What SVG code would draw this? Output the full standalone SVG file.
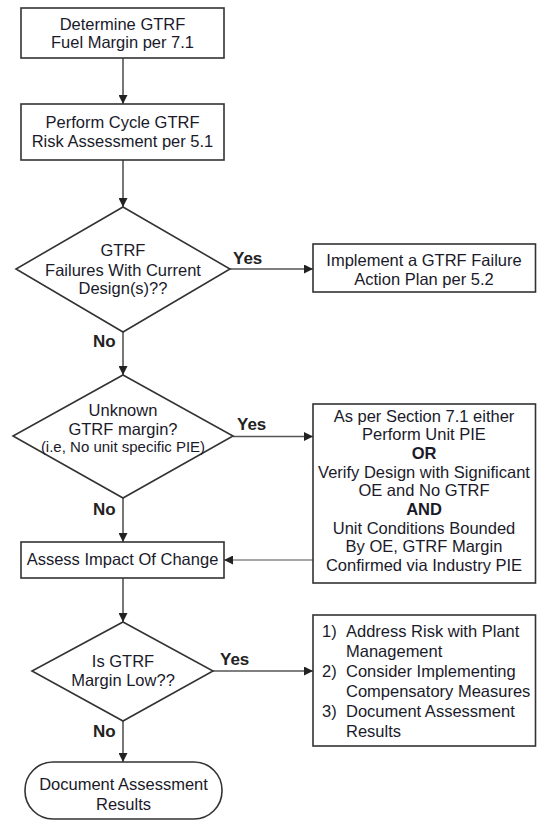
<svg xmlns="http://www.w3.org/2000/svg" width="537" height="821" viewBox="0 0 537 821">
<style>
.box{fill:#fff;stroke:#333;stroke-width:1.6}
.t{font-family:"Liberation Sans",Arial,sans-serif;font-size:16.5px;fill:#1a1a2a;text-anchor:middle}
.ts{font-size:15px}
.b{font-weight:bold}
.lbl{font-family:"Liberation Sans",Arial,sans-serif;font-size:17px;font-weight:bold;fill:#222}
.tl{text-anchor:start}
.c{fill:none;stroke:#555;stroke-width:1.6}
.cg{stroke:#888}
</style>
<defs>
<marker id="ah" viewBox="0 0 10 10" refX="10" refY="5" markerWidth="9" markerHeight="9" markerUnits="userSpaceOnUse" orient="auto">
<path d="M0,0 L10,5 L0,10 z" fill="#222"/>
</marker>
</defs>
<g id="connectors">
<line class="c" x1="123" y1="58" x2="123" y2="104" marker-end="url(#ah)"/>
<line class="c" x1="123" y1="160" x2="123" y2="207" marker-end="url(#ah)"/>
<line class="c" x1="230" y1="269" x2="313" y2="269" marker-end="url(#ah)"/>
<line class="c" x1="123" y1="332" x2="123" y2="375" marker-end="url(#ah)"/>
<line class="c" x1="233" y1="436.5" x2="313" y2="436.5" marker-end="url(#ah)"/>
<line class="c" x1="123" y1="498" x2="123" y2="542" marker-end="url(#ah)"/>
<line class="c cg" x1="313" y1="560" x2="224" y2="560" marker-end="url(#ah)"/>
<line class="c" x1="123" y1="578" x2="123" y2="622" marker-end="url(#ah)"/>
<line class="c" x1="213" y1="671" x2="313" y2="671" marker-end="url(#ah)"/>
<line class="c" x1="123" y1="721" x2="123" y2="762" marker-end="url(#ah)"/>
<text class="lbl" x="233" y="264">Yes</text>
<text class="lbl" x="93" y="347">No</text>
<text class="lbl" x="237" y="430">Yes</text>
<text class="lbl" x="93" y="515">No</text>
<text class="lbl" x="220" y="665">Yes</text>
<text class="lbl" x="93" y="737">No</text>
</g>
<g id="n1">
<rect class="box" x="21" y="8" width="203" height="50"/>
<text class="t" x="122.5" y="30">Determine GTRF</text>
<text class="t" x="122.5" y="48">Fuel Margin per 7.1</text>
</g>
<g id="n2">
<rect class="box" x="21" y="104" width="203" height="56"/>
<text class="t" x="122.5" y="128">Perform Cycle GTRF</text>
<text class="t" x="122.5" y="147">Risk Assessment per 5.1</text>
</g>
<g id="d1">
<polygon class="box" points="123,207 230,269 123,332 16,269"/>
<text class="t" x="123" y="256">GTRF</text>
<text class="t" x="123" y="276">Failures With Current</text>
<text class="t" x="123" y="294">Design(s)??</text>
</g>
<g id="n3">
<rect class="box" x="313" y="244" width="222.5" height="48"/>
<text class="t" x="424" y="265.5">Implement a GTRF Failure</text>
<text class="t" x="424" y="285">Action Plan per 5.2</text>
</g>
<g id="d2">
<polygon class="box" points="123,375 233,436 123,498 13,436"/>
<text class="t" x="123" y="416">Unknown</text>
<text class="t" x="123" y="435">GTRF margin?</text>
<text class="t ts" x="123" y="452">(i.e, No unit specific PIE)</text>
</g>
<g id="n4">
<rect class="box" x="313" y="404" width="222.5" height="179"/>
<text class="t" x="424" y="421.5">As per Section 7.1 either</text>
<text class="t" x="424" y="440.2">Perform Unit PIE</text>
<text class="t b" x="424" y="458.9">OR</text>
<text class="t" x="424" y="477.6">Verify Design with Significant</text>
<text class="t" x="424" y="496.3">OE and No GTRF</text>
<text class="t b" x="424" y="515">AND</text>
<text class="t" x="424" y="533.7">Unit Conditions Bounded</text>
<text class="t" x="424" y="552.4">By OE, GTRF Margin</text>
<text class="t" x="424" y="571.1">Confirmed via Industry PIE</text>
</g>
<g id="n5">
<rect class="box" x="21" y="542" width="203" height="36"/>
<text class="t" x="122.5" y="565">Assess Impact Of Change</text>
</g>
<g id="d3">
<polygon class="box" points="123,622 213,671 123,721 32,671"/>
<text class="t" x="123" y="667">Is GTRF</text>
<text class="t" x="123" y="686">Margin Low??</text>
</g>
<g id="n6">
<rect class="box" x="313" y="615" width="222.5" height="131"/>
<text class="t tl" x="322" y="636.5">1)</text>
<text class="t tl" x="346" y="636.5">Address Risk with Plant</text>
<text class="t tl" x="346" y="656.5">Management</text>
<text class="t tl" x="322" y="676.5">2)</text>
<text class="t tl" x="346" y="676.5">Consider Implementing</text>
<text class="t tl" x="346" y="696.5">Compensatory Measures</text>
<text class="t tl" x="322" y="716.5">3)</text>
<text class="t tl" x="346" y="716.5">Document Assessment</text>
<text class="t tl" x="346" y="736.5">Results</text>
</g>
<g id="n7">
<rect class="box" x="25" y="762" width="197" height="57" rx="28" ry="28"/>
<text class="t" x="123.5" y="790">Document Assessment</text>
<text class="t" x="123.5" y="810">Results</text>
</g>
</svg>
